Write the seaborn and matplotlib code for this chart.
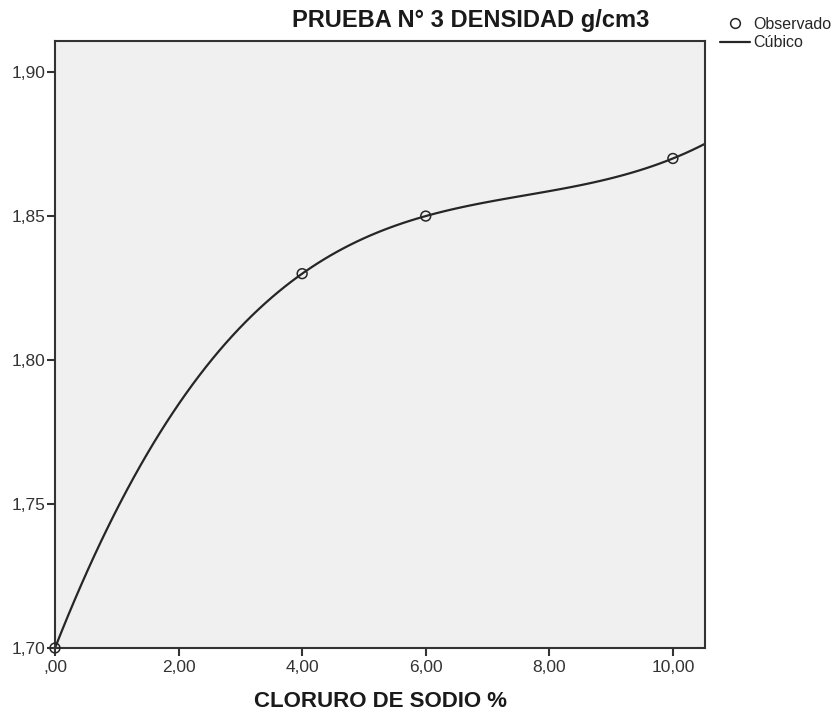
import numpy as np
import pandas as pd
import seaborn as sns
import matplotlib.pyplot as plt
from matplotlib.lines import Line2D

# observed values
cloruro = [0.0, 4.0, 6.0, 10.0]
densidad = [1.70, 1.83, 1.85, 1.87]
x_ticks = [0, 2, 4, 6, 8, 10]
x_tick_labels = [',00', '2,00', '4,00', '6,00', '8,00', '10,00']
y_ticks = [1.70, 1.75, 1.80, 1.85, 1.90]
y_tick_labels = ['1,70', '1,75', '1,80', '1,85', '1,90']

df = pd.DataFrame({'cloruro': cloruro, 'densidad': densidad})

sns.set_style('white')
plt.rcParams['font.family'] = ['Liberation Sans', 'DejaVu Sans']

fig = plt.figure(figsize=(8.38, 7.12), dpi=100)
ax = fig.add_axes([55 / 838, 1 - 648 / 712, 650 / 838, 607 / 712])
ax.set_facecolor('#f0f0f0')
ax.set_xlim(0, 10.52)
ax.set_ylim(1.70, 1.9108)

# cubic fit (SPSS "Cúbico") drawn by seaborn over the whole x range
sns.regplot(data=df, x='cloruro', y='densidad', order=3, ci=None,
            truncate=False, scatter=False, ax=ax,
            line_kws={'color': '#262626', 'lw': 1.6})
sns.scatterplot(data=df, x='cloruro', y='densidad', ax=ax, s=50,
                marker='o', facecolor='none', edgecolor='#262626',
                linewidth=1.1, zorder=5, clip_on=False)

ax.set_xlim(0, 10.52)
ax.set_ylim(1.70, 1.9108)
ax.set_xticks(x_ticks)
ax.set_xticklabels(x_tick_labels)
ax.set_yticks(y_ticks)
ax.set_yticklabels(y_tick_labels)
ax.tick_params(axis='both', direction='out', length=6, width=1.5,
               bottom=True, left=True,
               color='#333333', labelsize=12.5, labelcolor='#333333', pad=1)
ax.tick_params(axis='x', pad=3)
for sp in ax.spines.values():
    sp.set_color('#333333')
    sp.set_linewidth(1.5)

ax.set_xlabel('CLORURO DE SODIO %', fontsize=16, fontweight='bold',
              color='#1a1a1a', labelpad=11)
ax.set_ylabel('')
fig.text(471 / 838, 1 - 21 / 712, 'PRUEBA N° 3 DENSIDAD g/cm3', ha='center',
         va='center', fontsize=17, fontweight='bold', color='#1a1a1a')

handles = [
    Line2D([], [], marker='o', ls='none', mfc='none', mec='#262626',
           ms=7, mew=1.1, label='Observado'),
    Line2D([], [], color='#262626', lw=1.6, label='Cúbico'),
]
fig.legend(handles=handles, loc='upper left', bbox_to_anchor=(720 / 838, 1 - 17 / 712),
           frameon=False, fontsize=11.5, handlelength=1.9, handletextpad=0.2,
           labelspacing=0.2, borderpad=0, borderaxespad=0)

fig.savefig('out.png', dpi=100)
